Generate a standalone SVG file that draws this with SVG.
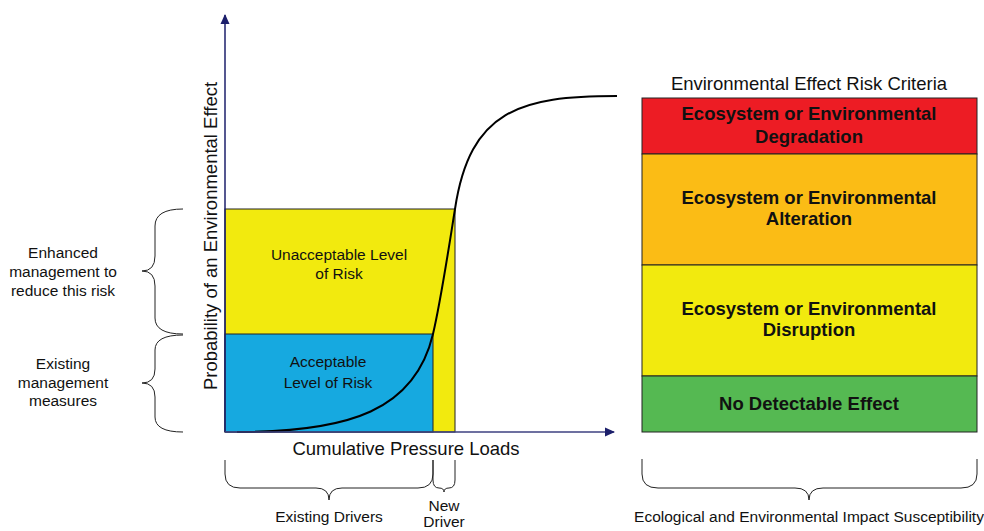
<svg xmlns="http://www.w3.org/2000/svg" width="984" height="531" viewBox="0 0 984 531">
<defs>
<marker id="ah" markerWidth="10" markerHeight="10" refX="9" refY="5" orient="auto" markerUnits="userSpaceOnUse">
<path d="M0,0.5 L10,5 L0,9.5 Z" fill="#1c1f6b"/>
</marker>
</defs>
<style>
text{font-family:"Liberation Sans",Arial,sans-serif;fill:#111}
.lbl{font-size:15.5px;text-anchor:middle}
.ax{font-size:18.5px;text-anchor:middle}
.crit{font-size:18.5px;font-weight:bold;text-anchor:middle}
.box{stroke:#222;stroke-width:1}
.brace{fill:none;stroke:#222;stroke-width:1}
</style>
<rect width="984" height="531" fill="#fff"/>

<g id="unacceptable">
<rect class="box" x="225" y="209" width="230" height="223" fill="#F2EA0E"/>
<text class="lbl" x="339" y="260">Unacceptable Level</text>
<text class="lbl" x="339" y="279">of Risk</text>
</g>
<g id="acceptable">
<rect class="box" x="225" y="334" width="208" height="98" fill="#16A9E0"/>
<text class="lbl" x="328" y="367">Acceptable</text>
<text class="lbl" x="328" y="388">Level of Risk</text>
</g>

<g id="curve">
<path d="M237,432 C350,432 415,410 433,334 C441,300 450,240 455,209 C470,110 520,96 617,96" fill="none" stroke="#000" stroke-width="2"/>
</g>

<g id="connectors">
<line x1="225" y1="432" x2="225" y2="15" stroke="#1c1f6b" stroke-width="1.5" marker-end="url(#ah)"/>
<line x1="225" y1="432" x2="614" y2="432" stroke="#3d4080" stroke-width="1.5" marker-end="url(#ah)"/>
</g>

<g id="y-label">
<text class="ax" transform="translate(217,236) rotate(-90)">Probability of an Environmental Effect</text>
</g>
<g id="x-label">
<text class="ax" x="406" y="455">Cumulative Pressure Loads</text>
</g>

<g id="brace-enhanced">
<path class="brace" d="M183,209 Q155,209 155,226 L155,256 Q155,271 142,271 Q155,271 155,286 L155,318 Q155,334 183,334"/>
<text class="lbl" x="63" y="258">Enhanced</text>
<text class="lbl" x="63" y="277">management to</text>
<text class="lbl" x="63" y="296">reduce this risk</text>
</g>
<g id="brace-existing">
<path class="brace" d="M183,335 Q155,335 155,350 L155,369 Q155,383 142,383 Q155,383 155,397 L155,417 Q155,432 183,432"/>
<text class="lbl" x="63" y="369">Existing</text>
<text class="lbl" x="63" y="388">management</text>
<text class="lbl" x="63" y="406">measures</text>
</g>

<g id="brace-existing-drivers">
<path class="brace" d="M225,460 L225,474 Q225,488 240,488 L316,488 Q329,488 329,500 Q329,488 342,488 L418,488 Q433,488 433,474 L433,460"/>
<text class="lbl" x="329" y="522">Existing Drivers</text>
</g>
<g id="brace-new-driver">
<path class="brace" d="M433,460 L433,480 Q433,488 439,488 Q444,488 444,492 Q444,488 449,488 Q455,488 455,480 L455,460"/>
<text class="lbl" x="444" y="511">New</text>
<text class="lbl" x="444" y="527">Driver</text>
</g>

<g id="criteria-title">
<text x="809" y="90" style="font-size:18.5px;text-anchor:middle">Environmental Effect Risk Criteria</text>
</g>
<g id="degradation">
<rect class="box" x="642" y="98" width="335" height="56" fill="#ED1C24"/>
<text class="crit" x="809" y="120">Ecosystem or Environmental</text>
<text class="crit" x="809" y="143">Degradation</text>
</g>
<g id="alteration">
<rect class="box" x="642" y="154" width="335" height="111" fill="#FBBC15"/>
<text class="crit" x="809" y="204">Ecosystem or Environmental</text>
<text class="crit" x="809" y="225">Alteration</text>
</g>
<g id="disruption">
<rect class="box" x="642" y="265" width="335" height="111" fill="#F2EA0E"/>
<text class="crit" x="809" y="315">Ecosystem or Environmental</text>
<text class="crit" x="809" y="336">Disruption</text>
</g>
<g id="no-effect">
<rect class="box" x="642" y="376" width="335" height="56" fill="#55B952"/>
<text class="crit" x="809" y="410">No Detectable Effect</text>
</g>
<g id="brace-susceptibility">
<path class="brace" d="M642,459 L642,474 Q642,488 658,488 L795,488 Q809,488 809,500 Q809,488 823,488 L961,488 Q977,488 977,474 L977,459"/>
<text class="lbl" x="809" y="522">Ecological and Environmental Impact Susceptibility</text>
</g>
</svg>
